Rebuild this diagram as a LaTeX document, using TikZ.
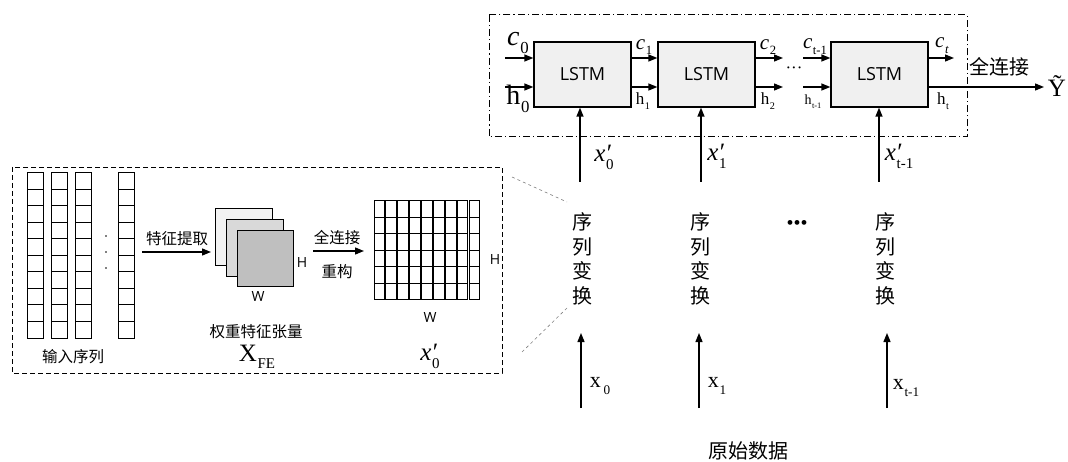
\documentclass[tikz,border=0pt]{standalone}
\usepackage{fontspec}
\setmainfont{Liberation Serif}
\setsansfont{Open Sans}
\newfontfamily\cjk{Noto Sans CJK SC}
\usetikzlibrary{arrows.meta}
\newcommand\lsub[2]{#1\kern0.03em\raisebox{-0.28em}{\scalebox{0.6}{#2}}}
\newcommand\lpsub[2]{#1\rlap{\kern0.06em\raisebox{0.02em}{′}}\kern0.03em\raisebox{-0.3em}{\scalebox{0.6}{#2}}}
\begin{document}
\begin{tikzpicture}[x=1pt,y=-1pt,
  arr/.style={-{Triangle[length=9pt,width=7pt]}, line width=1.3pt},
  lstm/.style={draw, line width=1.3pt, fill=gray!12, minimum width=97pt, minimum height=65pt, inner sep=0pt, font=\sffamily\fontsize{18}{18}\selectfont},
  cbig/.style={font=\cjk\fontsize{20}{24.5}\selectfont, align=center, inner sep=0pt},
  csmall/.style={font=\cjk\fontsize{15.5}{16}\selectfont, inner sep=0pt},
  labb/.style={inner sep=0pt, font=\fontsize{28}{28}\selectfont},
  lab/.style={inner sep=0pt, font=\fontsize{25}{25}\selectfont},
  labx/.style={inner sep=0pt, font=\fontsize{22}{22}\selectfont},
  labm/.style={inner sep=0pt, font=\fontsize{21}{21}\selectfont},
  labs/.style={inner sep=0pt, font=\fontsize{17}{17}\selectfont},
  sans/.style={inner sep=0pt, font=\sffamily\fontsize{14}{14}\selectfont},
  cell/.style={draw, line width=1pt},
  guide/.style={draw=gray, dashed, line width=0.6pt}
]
\useasboundingbox (0,0) rectangle (1068,462);

% ---------- upper LSTM chain ----------
\draw[line width=1pt, dash pattern=on 7pt off 3pt on 1.2pt off 3pt] (489,15) rectangle (967,137);
\coordinate (crow) at (0,58);
\coordinate (hrow) at (0,87);
\node[lstm] (L1) at (582.5,74.5) {LSTM};
\node[lstm] (L2) at (706.5,74.5) {LSTM};
\node[lstm] (L3) at (879.5,74.5) {LSTM};

\coordinate (c0s) at (505,58);
\coordinate (h0s) at (505,87);
\draw[arr] (c0s) -- (c0s -| L1.west);
\draw[arr] (h0s) -- (h0s -| L1.west);
\draw[arr] (L1.east |- crow) -- (L2.west |- crow);
\draw[arr] (L1.east |- hrow) -- (L2.west |- hrow);
\coordinate (c2e) at (783,58);
\coordinate (h2e) at (783,87);
\draw[arr] (c2e -| L2.east) -- (c2e);
\draw[arr] (h2e -| L2.east) -- (h2e);
\coordinate (c3s) at (803,58);
\coordinate (h3s) at (803,87);
\draw[arr] (c3s) -- (c3s -| L3.west);
\draw[arr] (h3s) -- (h3s -| L3.west);
\coordinate (cte) at (954,58);
\coordinate (Yend) at (1044,87);
\draw[arr] (cte -| L3.east) -- (cte);
\draw[arr] (Yend -| L3.east) -- (Yend);

\node[labb] (lc0) at (518,43) {\lsub{\textit{c}}{0}};
\node[labb] (lh0) at (518,99) {\lsub{h}{0}};
\node[labm] (lc1) at (644,47) {\lsub{\textit{c}}{1}};
\node[labs] (lh1) at (643,101) {\lsub{h}{1}};
\node[labm] (lc2) at (768,47) {\lsub{\textit{c}}{2}};
\node[labs] (lh2) at (768,101) {\lsub{h}{2}};
\node[labm] (lc3) at (815,47) {\lsub{\textit{c}}{t-1}};
\node[inner sep=0pt, font=\fontsize{14}{14}\selectfont] (lh3) at (813,102) {\lsub{h}{t-1}};
\node[labm] (lct) at (942,46) {\lsub{\textit{c}}{\textit{t}}};
\node[labs] (lht) at (943,101) {\lsub{h}{t}};
\node[labs] (dots1) at (794,70) {···};
\node[inner sep=0pt, font=\cjk\fontsize{20}{20}\selectfont] (fc) at (999,67) {全连接};
\node[inner sep=0pt, font=\fontsize{25}{25}\selectfont] (Y) at (1057,86) {Ỹ};

% x' inputs
\coordinate (xp0) at (580,182);
\coordinate (xp1) at (701,182);
\coordinate (xp2) at (879,182);
\draw[arr] (xp0) -- (xp0 |- L1.south);
\draw[arr] (xp1) -- (xp1 |- L2.south);
\draw[arr] (xp2) -- (xp2 |- L3.south);
\node[lab] (lxp0) at (604,157) {\lpsub{\textit{x}}{0}};
\node[lab] (lxp1) at (717,156) {\lpsub{\textit{x}}{1}};
\node[lab] (lxp2) at (899,156) {\lpsub{\textit{x}}{t-1}};

% sequence transform columns
\node[cbig] (T0) at (582,259) {序\\列\\变\\换};
\node[cbig] (T1) at (700,259) {序\\列\\变\\换};
\node[cbig] (T2) at (885,259) {序\\列\\变\\换};
\node[inner sep=0pt, font=\fontsize{20}{20}\selectfont] (dots2) at (797,225) {•••};

\coordinate (x0s) at (581,408); \coordinate (x0e) at (581,333);
\coordinate (x1s) at (699,408); \coordinate (x1e) at (699,333);
\coordinate (x2s) at (887,408); \coordinate (x2e) at (887,333);
\draw[arr] (x0s) -- (x0e);
\draw[arr] (x1s) -- (x1e);
\draw[arr] (x2s) -- (x2e);
\node[labx] (lx0) at (600,386) {\lsub{x}{\,0}};
\node[labx] (lx1) at (717,386) {\lsub{x}{1}};
\node[labx] (lx2) at (906,388) {\lsub{x}{t-1}};
\node[inner sep=0pt, font=\cjk\fontsize{20}{20}\selectfont] (raw) at (748,451) {原始数据};

% ---------- left dashed box ----------
\draw[line width=0.9pt, dash pattern=on 5pt off 3pt] (12,167) rectangle (502,373);
\draw[guide] (512,177) -- (567,202);
\draw[guide] (522,352) -- (567,308);

% input sequence
\foreach \cx in {27,51,75,118}{
  \foreach \r in {0,...,9}{
    \draw[cell] (\cx,173+16.5*\r) rectangle ++(16,16.5);
  }
}
\fill (106,236) circle (0.9);
\fill (106,252) circle (0.9);
\fill (106,268) circle (0.9);
\node[csmall] (inseq) at (73,357) {输入序列};

% feature extraction arrow
\coordinate (fes) at (142,252);
\coordinate (fee) at (211,252);
\draw[arr] (fes) -- (fee);
\node[csmall] (fel) at (177,239) {特征提取};

% stacked tensors
\node[draw, line width=1pt, fill=gray!10, minimum width=57pt, minimum height=57pt, inner sep=0pt] (S1) at (243.5,237.5) {};
\node[draw, line width=1pt, fill=gray!30, minimum width=57pt, minimum height=57pt, inner sep=0pt] (S2) at (254.5,248.5) {};
\node[draw, line width=1pt, fill=gray!50, minimum width=56pt, minimum height=56pt, inner sep=0pt] (S3) at (265,259) {};
\node[sans] (H1) at (302,263) {H};
\node[sans] (W1) at (258,297) {W};
\node[csmall] (wft) at (256,332) {权重特征张量};
\node[inner sep=0pt, font=\fontsize{25}{25}\selectfont] (XFE) at (257,357) {\lsub{X}{FE}};

% fully connected reconstruct arrow
\coordinate (fcs) at (313,251);
\coordinate (fce) at (364,251);
\draw[arr] (fcs) -- (fce);
\node[csmall] (fcl) at (337,238) {全连接};
\node[csmall] (rcl) at (337,272) {重构};

% grid 9 x 6
\foreach \c in {0,...,8}{
  \foreach \r in {0,...,5}{
    \draw[cell] (374+11.9*\c,201+16.5*\r) rectangle ++(10.6,16.5);
  }
}
\node[sans] (H2) at (495,260) {H};
\node[sans] (W2) at (430,318) {W};
\node[lab] (lxg) at (430,356) {\lpsub{\textit{x}}{0}};
\end{tikzpicture}
\end{document}
